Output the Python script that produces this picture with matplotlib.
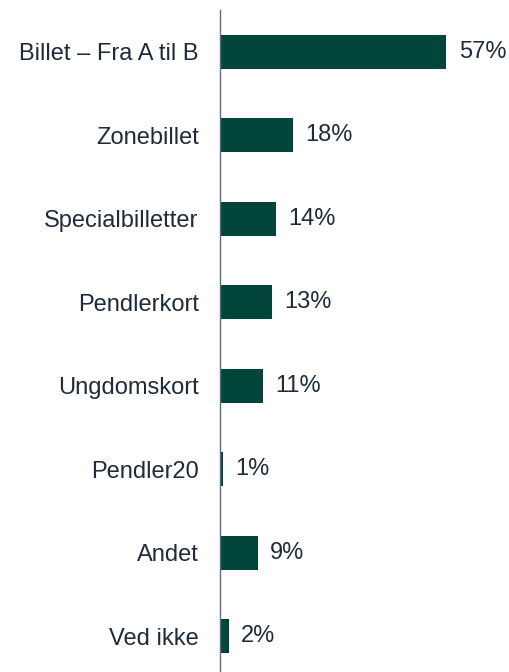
import matplotlib
matplotlib.use("Agg")
import matplotlib.pyplot as plt

categories = ["Billet – Fra A til B", "Zonebillet", "Specialbilletter", "Pendlerkort",
              "Ungdomskort", "Pendler20", "Andet", "Ved ikke"]
values = [57, 18.4, 14.1, 13.2, 10.8, 0.8, 9.6, 2.3]
value_labels = ["57%", "18%", "14%", "13%", "11%", "1%", "9%", "2%"]

plt.rcParams['font.family'] = ['Liberation Sans', 'DejaVu Sans']

fig = plt.figure(figsize=(5.1, 6.72), dpi=100)
ax = fig.add_axes([0.4305, 0.0, 0.5695, 0.985])

bar_color = "#02453A"
text_color = "#1F2B3A"
ypos = list(range(len(categories)))
ax.barh(ypos, values, height=0.41, color=bar_color)
ax.set_xlim(0, 73)
ax.set_ylim(7.43, -0.5)

for y, v, lab in zip(ypos, values, value_labels):
    ax.annotate(lab, xy=(v, y), xytext=(9, 0), textcoords="offset points",
                va="center", ha="left", fontsize=17, color=text_color)

ax.set_yticks(ypos)
ax.set_yticklabels(categories, fontsize=17, color=text_color)
ax.tick_params(axis='y', length=0, pad=15)
ax.set_xticks([])
for s in ["top", "right", "bottom"]:
    ax.spines[s].set_visible(False)
ax.spines["left"].set_color("#5F6B78")
ax.spines["left"].set_linewidth(1.0)

fig.savefig("out.png", dpi=100)
